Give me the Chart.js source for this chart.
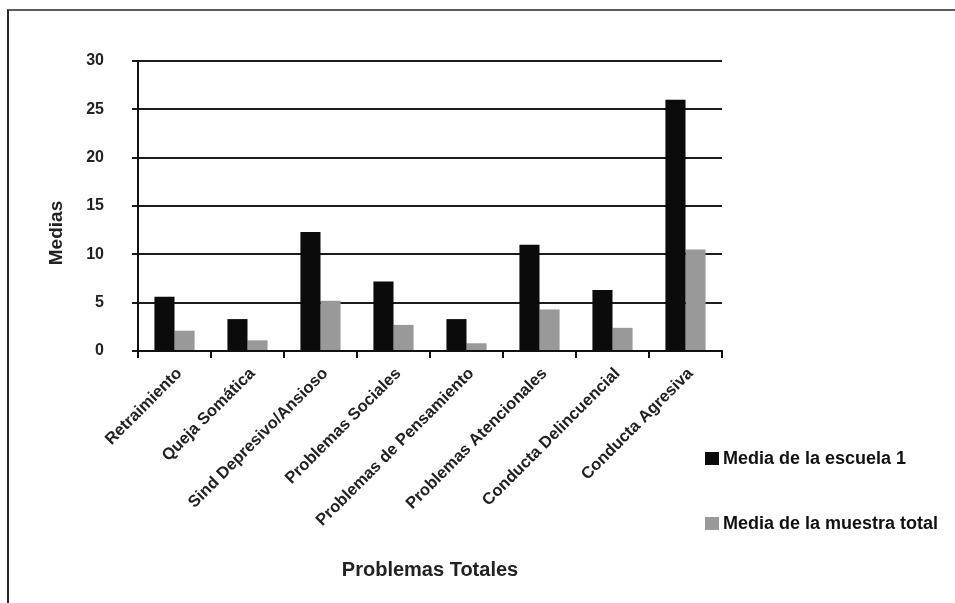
<!DOCTYPE html>
<html>
<head>
<meta charset="utf-8">
<title>Medias por escala</title>
<script src="https://cdn.jsdelivr.net/npm/chart.js@4"></script>
<style>
  html, body { margin: 0; padding: 0; background: #fff; overflow: hidden; }
  #marco {
    position: absolute; left: 7px; top: 9px; width: 960px; height: 600px;
    border-top: 2px solid #5a5a5a; border-left: 2px solid #2a2a2a;
  }
  #grafico { position: absolute; left: 0; top: 0; }
  #leyenda {
    position: absolute; left: 705px; top: 445px;
    font: bold 18px "Liberation Sans", Arial, sans-serif; color: #111;
  }
  .item { display: flex; align-items: center; height: 26px; margin-bottom: 39px; }
  .caja { width: 14px; height: 13px; margin-right: 4px; }
</style>
</head>
<body>
<div id="marco"></div>
<canvas id="grafico" width="955" height="603"></canvas>
<div id="leyenda"></div>
<script>
var categorias = [
  "Retraimiento",
  "Queja Somática",
  "Sind Depresivo/Ansioso",
  "Problemas Sociales",
  "Problemas de Pensamiento",
  "Problemas Atencionales",
  "Conducta Delincuencial",
  "Conducta Agresiva"
];
var mediaEscuela1 = [5.6, 3.3, 12.3, 7.2, 3.3, 11.0, 6.3, 26.0];
var mediaMuestraTotal = [2.1, 1.1, 5.2, 2.7, 0.8, 4.3, 2.4, 10.5];
var nombresSeries = ["Media de la escuela 1", "Media de la muestra total"];
var coloresSeries = ["#0b0b0b", "#999999"];

var fuente = "'Liberation Sans', Arial, sans-serif";

// título del eje Y, algo más abajo que el centro del área de barras
var tituloY = {
  id: "tituloY",
  afterDraw: function (chart) {
    var c = chart.ctx;
    var area = chart.chartArea;
    c.save();
    c.translate(57, (area.top + area.bottom) / 2 + 27);
    c.rotate(-Math.PI / 2);
    c.font = "bold 19px " + fuente;
    c.fillStyle = "#222";
    c.textAlign = "center";
    c.textBaseline = "middle";
    c.fillText("Medias", 0, 0);
    c.restore();
  }
};

var ctx = document.getElementById("grafico").getContext("2d");
var chart = new Chart(ctx, {
  type: "bar",
  data: {
    labels: categorias,
    datasets: [
      {
        label: nombresSeries[0],
        data: mediaEscuela1,
        backgroundColor: coloresSeries[0],
        categoryPercentage: 0.55,
        barPercentage: 1.0
      },
      {
        label: nombresSeries[1],
        data: mediaMuestraTotal,
        backgroundColor: coloresSeries[1],
        categoryPercentage: 0.55,
        barPercentage: 1.0
      }
    ]
  },
  options: {
    responsive: false,
    animation: false,
    layout: { padding: { top: 61, right: 233, left: 0, bottom: 0 } },
    plugins: {
      legend: { display: false },
      tooltip: { enabled: false }
    },
    scales: {
      y: {
        min: 0,
        max: 30,
        ticks: {
          stepSize: 5,
          padding: 28,
          color: "#222",
          font: { family: fuente, size: 16, weight: "bold" }
        },
        grid: { color: "#1c1c1c", lineWidth: 2, tickLength: 6 },
        border: { color: "#111", width: 2 },
        afterFit: function (scale) { scale.width = 138; }
      },
      x: {
        grid: { drawOnChartArea: false, color: "#111", lineWidth: 2, tickLength: 7 },
        border: { color: "#111", width: 2 },
        ticks: {
          autoSkip: false,
          minRotation: 45,
          maxRotation: 45,
          labelOffset: 5,
          padding: 6,
          color: "#222",
          font: { family: fuente, size: 16.5, weight: "bold" }
        },
        title: {
          display: true,
          text: "Problemas Totales",
          color: "#222",
          font: { family: fuente, size: 20, weight: "bold" },
          padding: { top: 0, bottom: 21 }
        },
        afterFit: function (scale) { scale.height = 252; }
      }
    }
  },
  plugins: [tituloY]
});

// leyenda a la derecha, debajo del área de barras
var leyenda = document.getElementById("leyenda");
chart.data.datasets.forEach(function (ds) {
  var item = document.createElement("div");
  item.className = "item";
  var caja = document.createElement("span");
  caja.className = "caja";
  caja.style.background = ds.backgroundColor;
  var texto = document.createElement("span");
  texto.textContent = ds.label;
  item.appendChild(caja);
  item.appendChild(texto);
  leyenda.appendChild(item);
});
</script>
</body>
</html>
